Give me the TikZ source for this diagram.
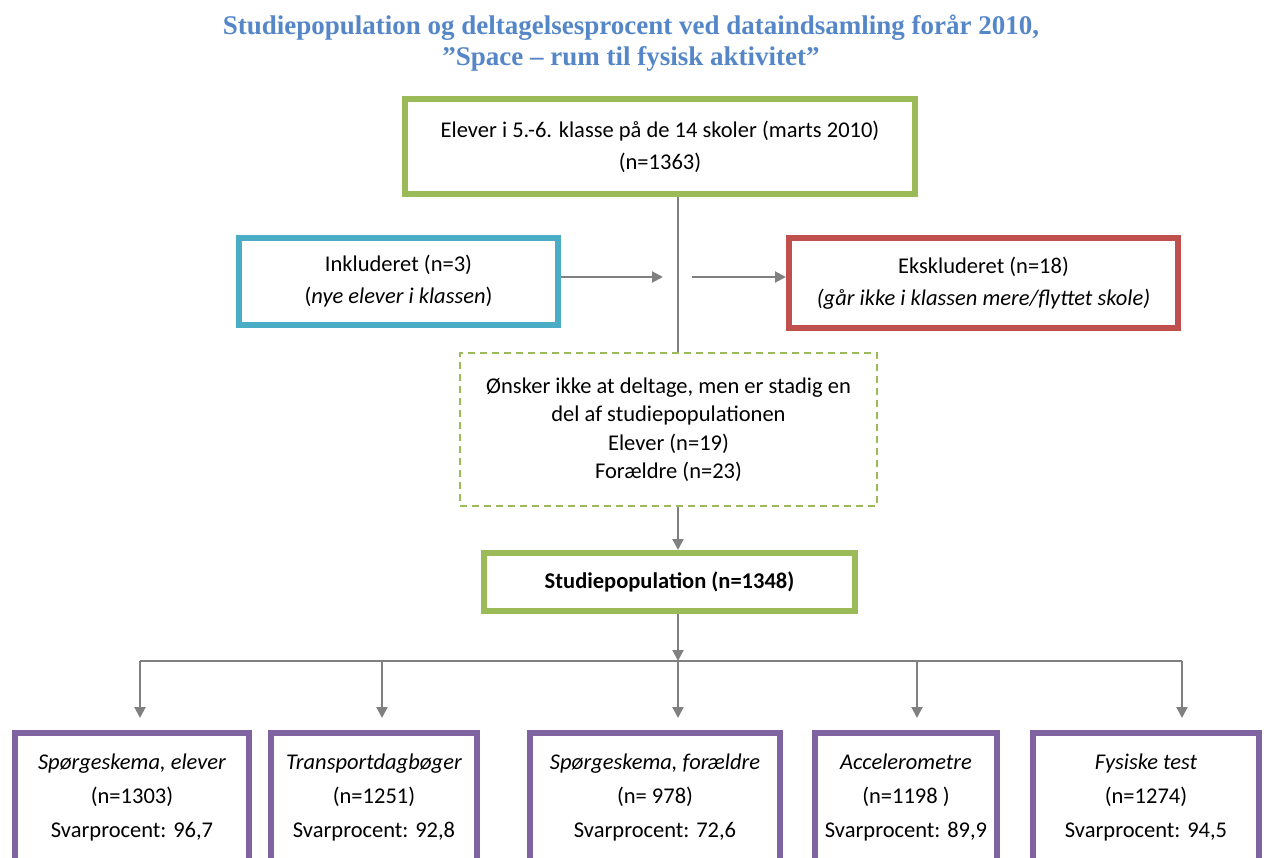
\documentclass[tikz,border=0pt]{standalone}
\usepackage{fontspec}
\setmainfont{Carlito}
\newfontfamily\titlefont{Liberation Serif}
\usetikzlibrary{arrows.meta}
\definecolor{cgreen}{HTML}{9BBB59}
\definecolor{cblue}{HTML}{4BACC6}
\definecolor{cred}{HTML}{C0504D}
\definecolor{cpurple}{HTML}{8064A2}
\definecolor{cgray}{HTML}{808080}
\definecolor{ctitle}{RGB}{85,135,200}
\begin{document}
\begin{tikzpicture}[x=1pt,y=-1pt,
  every node/.style={inner sep=0pt, align=center},
  body/.style={font=\fontsize{22.5}{32}\selectfont},
  box/.style={draw, line width=6pt, body},
  dashbox/.style={draw=cgreen, dashed, dash pattern=on 7pt off 5pt, line width=1.5pt, font=\fontsize{22.5}{28.5}\selectfont},
  conn/.style={draw=cgray, line width=2pt},
  arr/.style={conn, -{Triangle[length=11pt,width=11pt]}},
  ttl/.style={text=ctitle, font=\titlefont\bfseries\fontsize{27}{31}\selectfont}
]
\useasboundingbox (0,0) rectangle (1264,858);
\clip (0,0) rectangle (1264,858);

\node[ttl] (title) at (631,43) {Studiepopulation og deltagelsesprocent ved dataindsamling forår 2010,\\ ”Space – rum til fysisk aktivitet”};

\node[box, draw=cgreen, minimum width=510pt, minimum height=95pt] (top) at (660,146.5)
  {Elever i 5.-6. klasse på de 14 skoler (marts 2010)\\(n=1363)};
\node[box, draw=cblue, minimum width=319pt, minimum height=87pt] (incl) at (398.5,281.5)
  {Inkluderet (n=3)\\(\textit{nye elever i klassen})};
\node[box, draw=cred, minimum width=389pt, minimum height=90pt] (excl) at (983.5,283)
  {Ekskluderet (n=18)\\\textit{(går ikke i klassen mere/flyttet skole)}};
\node[dashbox, minimum width=417pt, minimum height=153pt] (dash) at (668.5,429.5)
  {Ønsker ikke at deltage, men er stadig en\\del af studiepopulationen\\Elever (n=19)\\Forældre (n=23)};
\node[box, draw=cgreen, minimum width=371pt, minimum height=58pt, font=\fontsize{22.5}{32}\selectfont\bfseries] (pop) at (669.5,582)
  {Studiepopulation (n=1348)};

\node[box, draw=cpurple, minimum width=234pt, minimum height=128pt] (b1) at (132,797)
  {\textit{Spørgeskema, elever}\\[2pt](n=1303)\\[2pt]Svarprocent: 96,7};
\node[box, draw=cpurple, minimum width=206pt, minimum height=128pt] (b2) at (374,797)
  {\textit{Transportdagbøger}\\[2pt](n=1251)\\[2pt]Svarprocent: 92,8};
\node[box, draw=cpurple, minimum width=250pt, minimum height=128pt] (b3) at (655,797)
  {\textit{Spørgeskema, forældre}\\[2pt](n= 978)\\[2pt]Svarprocent: 72,6};
\node[box, draw=cpurple, minimum width=182pt, minimum height=128pt] (b4) at (906,797)
  {\textit{Accelerometre}\\[2pt](n=1198 )\\[2pt]Svarprocent: 89,9};
\node[box, draw=cpurple, minimum width=226pt, minimum height=128pt] (b5) at (1146,797)
  {\textit{Fysiske test}\\[2pt](n=1274)\\[2pt]Svarprocent: 94,5};

% spine
\coordinate (s1) at (678,197);
\coordinate (inL) at (663,277);
\coordinate (outR) at (692,277);
\coordinate (split) at (678,661);
\coordinate (hl) at (140,661);
\coordinate (hr) at (1182,661);
\coordinate (d1) at (140,661);
\coordinate (d2) at (382,661);
\coordinate (d4) at (917,661);
\coordinate (d5) at (1182,661);
\coordinate (t1) at (140,718);
\coordinate (t2) at (382,718);
\coordinate (t3) at (678,718);
\coordinate (t4) at (917,718);
\coordinate (t5) at (1182,718);

\draw[conn] (top.south -| s1) -- (dash.north -| s1);
\draw[arr] (incl.east |- inL) -- (inL);
\draw[arr] (outR) -- (excl.west |- outR);
\draw[arr] (dash.south -| s1) -- (pop.north -| s1);
\draw[arr] (pop.south -| s1) -- (split);
\draw[conn] (hl) -- (hr);
\draw[arr] (d1) -- (t1);
\draw[arr] (d2) -- (t2);
\draw[arr] (split) -- (t3);
\draw[arr] (d4) -- (t4);
\draw[arr] (d5) -- (t5);
\end{tikzpicture}
\end{document}
